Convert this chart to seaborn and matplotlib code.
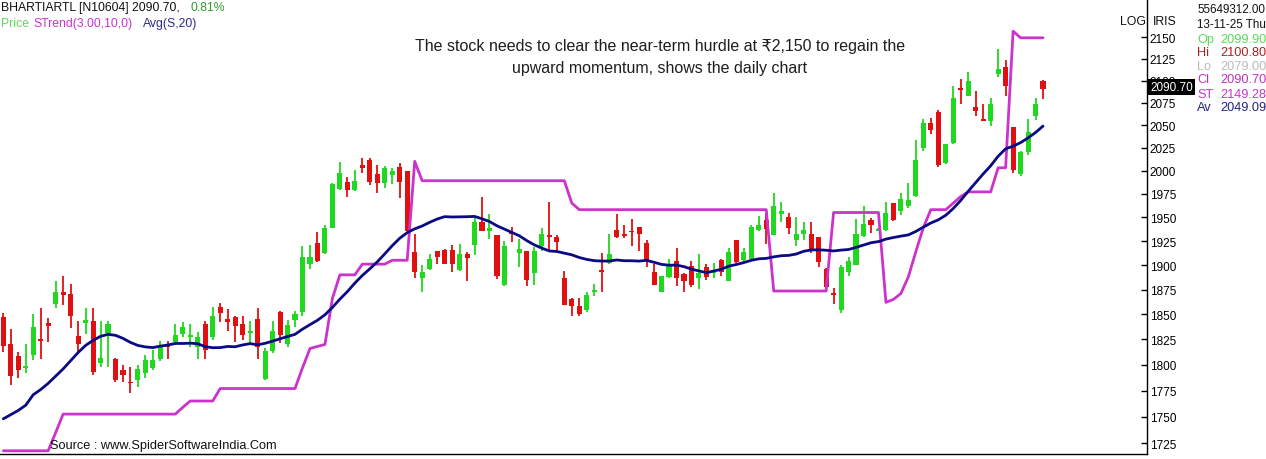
import seaborn as sns
import matplotlib.pyplot as plt
import matplotlib.ticker as mticker
import numpy as np
import pandas as pd

# daily candles (oldest first)
opens = [1847, 1820, 1809, 1797, 1810, 1825, 1841, 1860, 1873, 1870,
         1828, 1841, 1843, 1802, 1831, 1806, 1795, 1783, 1785, 1792,
         1797, 1806, 1818, 1822, 1830, 1827, 1817, 1840, 1827, 1857,
         1845, 1847, 1840, 1831, 1845, 1786, 1814, 1852, 1820, 1844,
         1852, 1901, 1923, 1913, 1939, 1980, 1988, 1979, 2006, 2011,
         1996, 1987, 1995, 2004, 1999, 1914, 1887, 1896, 1915, 1916,
         1916, 1895, 1911, 1921, 1945, 1935, 1931, 1880, 1934, 1913,
         1915, 1892, 1920, 1931, 1929, 1887, 1865, 1858, 1854, 1873,
         1895, 1902, 1937, 1932, 1936, 1940, 1923, 1893, 1873, 1888,
         1904, 1891, 1899, 1887, 1898, 1892, 1905, 1884, 1926, 1905,
         1906, 1937, 1947, 1931, 1953, 1950, 1926, 1932, 1932, 1929,
         1896, 1871, 1854, 1893, 1900, 1930, 1947, 1936, 1937, 1965,
         1957, 1962, 1973, 2025, 2052, 2065, 2008, 2030, 2092, 2083,
         2070, 2057, 2055, 2107, 2115, 2048, 1996, 2020, 2060, 2099.9]
highs = [1851, 1835, 1813, 1820, 1850, 1856, 1846, 1884, 1889, 1881,
         1843, 1856, 1856, 1843, 1843, 1807, 1800, 1798, 1800, 1810,
         1815, 1823, 1823, 1840, 1842, 1840, 1832, 1843, 1857, 1861,
         1855, 1848, 1848, 1843, 1856, 1816, 1843, 1853, 1844, 1853,
         1920, 1921, 1934, 1942, 1987, 2009, 1993, 2001, 2014, 2014,
         2006, 2005, 2003, 2008, 2000, 1932, 1900, 1911, 1915, 1917,
         1921, 1922, 1914, 1951, 1971, 1953, 1931, 1925, 1940, 1927,
         1915, 1919, 1939, 1966, 1931, 1894, 1866, 1866, 1873, 1881,
         1913, 1932, 1953, 1942, 1948, 1940, 1926, 1901, 1889, 1906,
         1918, 1892, 1904, 1911, 1901, 1902, 1906, 1918, 1926, 1918,
         1942, 1951, 1953, 1976, 1966, 1955, 1950, 1945, 1945, 1929,
         1897, 1877, 1900, 1908, 1948, 1962, 1949, 1939, 1966, 1965,
         1976, 1987, 2033, 2057, 2058, 2067, 2029, 2094, 2102, 2110,
         2088, 2073, 2080, 2136, 2123, 2048, 2021, 2057, 2080, 2100.8]
lows = [1813, 1780, 1787, 1792, 1805, 1806, 1822, 1856, 1859, 1836,
        1813, 1830, 1790, 1798, 1798, 1783, 1783, 1773, 1778, 1787,
        1795, 1804, 1806, 1819, 1827, 1817, 1806, 1806, 1824, 1842,
        1833, 1822, 1824, 1821, 1806, 1785, 1812, 1821, 1817, 1837,
        1848, 1896, 1903, 1912, 1939, 1979, 1972, 1978, 1997, 1984,
        1976, 1981, 1985, 1970, 1935, 1887, 1872, 1895, 1901, 1901,
        1893, 1894, 1884, 1910, 1935, 1927, 1886, 1879, 1924, 1898,
        1879, 1880, 1915, 1915, 1914, 1859, 1848, 1848, 1852, 1868,
        1872, 1901, 1928, 1928, 1920, 1915, 1898, 1880, 1872, 1887,
        1879, 1872, 1878, 1876, 1885, 1887, 1889, 1884, 1902, 1902,
        1904, 1935, 1922, 1931, 1945, 1932, 1920, 1926, 1913, 1898,
        1877, 1860, 1851, 1889, 1900, 1929, 1933, 1935, 1936, 1946,
        1952, 1960, 1972, 2021, 2040, 2004, 2007, 2029, 2073, 2082,
        2060, 2054, 2049, 2104, 2083, 1997, 1994, 2017, 2056, 2079]
closes = [1818, 1789, 1795, 1799, 1837, 1823, 1838, 1873, 1869, 1848,
          1820, 1844, 1793, 1807, 1840, 1785, 1790, 1782, 1796, 1805,
          1805, 1818, 1817, 1829, 1837, 1829, 1827, 1815, 1848, 1851,
          1842, 1838, 1829, 1833, 1817, 1814, 1833, 1829, 1839, 1850,
          1908, 1908, 1904, 1939, 1985, 1997, 1979, 1989, 2003, 1988,
          1986, 2003, 1999, 1988, 1935, 1893, 1893, 1906, 1908, 1901,
          1901, 1911, 1907, 1945, 1935, 1939, 1889, 1920, 1932, 1917,
          1885, 1915, 1932, 1929, 1924, 1859, 1858, 1850, 1869, 1875,
          1893, 1911, 1929, 1930, 1934, 1932, 1904, 1880, 1889, 1900,
          1887, 1884, 1880, 1892, 1888, 1895, 1893, 1914, 1903, 1914,
          1940, 1942, 1938, 1962, 1957, 1939, 1932, 1937, 1917, 1903,
          1878, 1869, 1898, 1904, 1932, 1943, 1942, 1938, 1955, 1947,
          1969, 1968, 2011, 2052, 2044, 2006, 2029, 2080, 2089, 2099,
          2066, 2055, 2074, 2113, 2094, 2001, 2020, 2042, 2074, 2090.7]

# SuperTrend(3,10) as drawn
strend = [1718, 1718, 1718, 1718, 1718, 1718, 1718, 1735, 1752.5, 1752.5,
          1752.5, 1752.5, 1752.5, 1752.5, 1752.5, 1752.5, 1752.5, 1752.5, 1752.5, 1752.5,
          1752.5, 1752.5, 1752.5, 1752.5, 1759, 1765, 1765, 1765, 1765, 1777,
          1777, 1777, 1777, 1777, 1777, 1777, 1777, 1777, 1777, 1777,
          1797, 1816, 1818, 1820, 1866, 1890, 1890, 1890, 1901, 1901,
          1901, 1901, 1905, 1905, 1905, 2010, 1989, 1989, 1989, 1989,
          1989, 1989, 1989, 1989, 1989, 1989, 1989, 1989, 1989, 1989,
          1989, 1989, 1989, 1989, 1989, 1989, 1965, 1958, 1958, 1958,
          1958, 1958, 1958, 1958, 1958, 1958, 1958, 1958, 1958, 1958,
          1958, 1958, 1958, 1958, 1958, 1958, 1958, 1958, 1958, 1958,
          1958, 1958, 1958, 1873.5, 1873.5, 1873.5, 1873.5, 1873.5, 1873.5, 1873.5,
          1873.5, 1955, 1955, 1955, 1955, 1955, 1955, 1955, 1862, 1865,
          1871, 1888, 1914, 1939, 1958, 1958, 1958, 1965, 1972, 1977,
          1977, 1977, 1977, 2003, 2003, 2157, 2149.28, 2149.28, 2149.28, 2149.28]

# 20-day average for the first bars (earlier closes are off the chart)
avg_head = [1748, 1752, 1756, 1761, 1771, 1776, 1782, 1789, 1796, 1804,
            1812, 1819, 1824, 1828, 1830, 1829, 1826, 1822, 1819]

y_ticks = list(range(1725, 2151, 25))

df = pd.DataFrame({'bar': np.arange(len(closes)), 'open': opens, 'high': highs,
                   'low': lows, 'close': closes, 'strend': strend})
df['avg'] = df['close'].rolling(20).mean()
df.loc[:len(avg_head) - 1, 'avg'] = avg_head

sns.set_style('white')
plt.rcParams['font.family'] = ['Liberation Sans', 'DejaVu Sans']

W, H = 1266, 460
fig = plt.figure(figsize=(W / 100, H / 100), dpi=100)
ax = fig.add_axes([0, 5 / H, 1147 / W, 455 / H])

# candles
up = df['close'] >= df['open']
colors = np.where(up, '#1fd81f', '#e01010')
ax.vlines(df['bar'], df['low'], df['high'], colors=colors, linewidth=1.3, zorder=2)
body_lo = df[['open', 'close']].min(axis=1)
body_hi = df[['open', 'close']].max(axis=1)
ax.bar(df['bar'], (body_hi - body_lo).clip(lower=1), bottom=body_lo, width=0.68,
       color=colors, linewidth=0, zorder=3)

sns.lineplot(data=df, x='bar', y='strend', color='#cc33cc', linewidth=2, ax=ax, zorder=4)
sns.lineplot(data=df, x='bar', y='avg', color='#0a0a85', linewidth=2, ax=ax, zorder=5)

ax.set_yscale('log')
ax.set_ylim(1715, 2195)
ax.set_xlim(-0.44, 152.9)
ax.yaxis.set_major_locator(mticker.FixedLocator(y_ticks))
ax.yaxis.set_major_formatter(mticker.FixedFormatter([str(t) for t in y_ticks]))
ax.yaxis.set_minor_locator(mticker.NullLocator())
ax.yaxis.tick_right()
ax.tick_params(axis='y', direction='in', length=4, width=1, pad=2, labelsize=8.5, colors='black')
ax.set_xticks([])
ax.set_xlabel('')
ax.set_ylabel('')
for side in ['top', 'left']:
    ax.spines[side].set_visible(False)
for side in ['right', 'bottom']:
    ax.spines[side].set_color('black')
    ax.spines[side].set_linewidth(1)

# last price marker (sits over the 2100 label, as on the terminal)
ax.text(1.003, 2093, '2090.70', transform=ax.get_yaxis_transform(), color='white',
        fontsize=8.5, va='center', ha='left', clip_on=False, zorder=10,
        bbox=dict(facecolor='black', edgecolor='none', pad=1.5))


def ftext(x, y, s, **kw):
    fig.text(x / W, 1 - y / H, s, va='center', **kw)


# header
ftext(1, 8, 'BHARTIARTL [N10604] 2090.70,', fontsize=8.8, color='#111111')
ftext(190, 8, '0.81%', fontsize=8.8, color='#2e9a2e')
ftext(1, 24, 'Price', fontsize=8.8, color='#5cd65c')
ftext(33, 24, 'STrend(3.00,10,0)', fontsize=8.8, color='#cc33cc')
ftext(143, 24, 'Avg(S,20)', fontsize=8.8, color='#2b2b8f')

ftext(1120, 22, 'LOG', fontsize=8.8, color='#111111')
ftext(1153, 22, 'IRIS', fontsize=8.8, color='#111111')

# info panel
panel = [('55649312.00', '#111111', 10), ('13-11-25 Thu', '#111111', 25)]
for s, c, y in panel:
    ftext(1197, y, s, fontsize=8.4, color=c)
rows = [('Op', '2099.90', '#55dd55', 40), ('Hi', '2100.80', '#aa2222', 53),
        ('Lo', '2079.00', '#bbbbbb', 67), ('Cl', '2090.70', '#bb33bb', 80),
        ('ST', '2149.28', '#cc33cc', 95), ('Av', '2049.09', '#22227f', 108)]
for k, v, c, y in rows:
    ftext(1197, y, k, fontsize=9.2, color=c)
    ftext(1220, y, v, fontsize=9.2, color=c)

# commentary
ftext(660, 47, 'The stock needs to clear the near-term hurdle at \u20b92,150 to regain the',
      fontsize=11.5, color='#1e1e1e', ha='center')
ftext(660, 68, 'upward momentum, shows the daily chart', fontsize=11.5, color='#1e1e1e',
      ha='center')

ftext(50, 446, 'Source : www.SpiderSoftwareIndia.Com', fontsize=9.2, color='#111111')

plt.savefig('out.png', dpi=100)
